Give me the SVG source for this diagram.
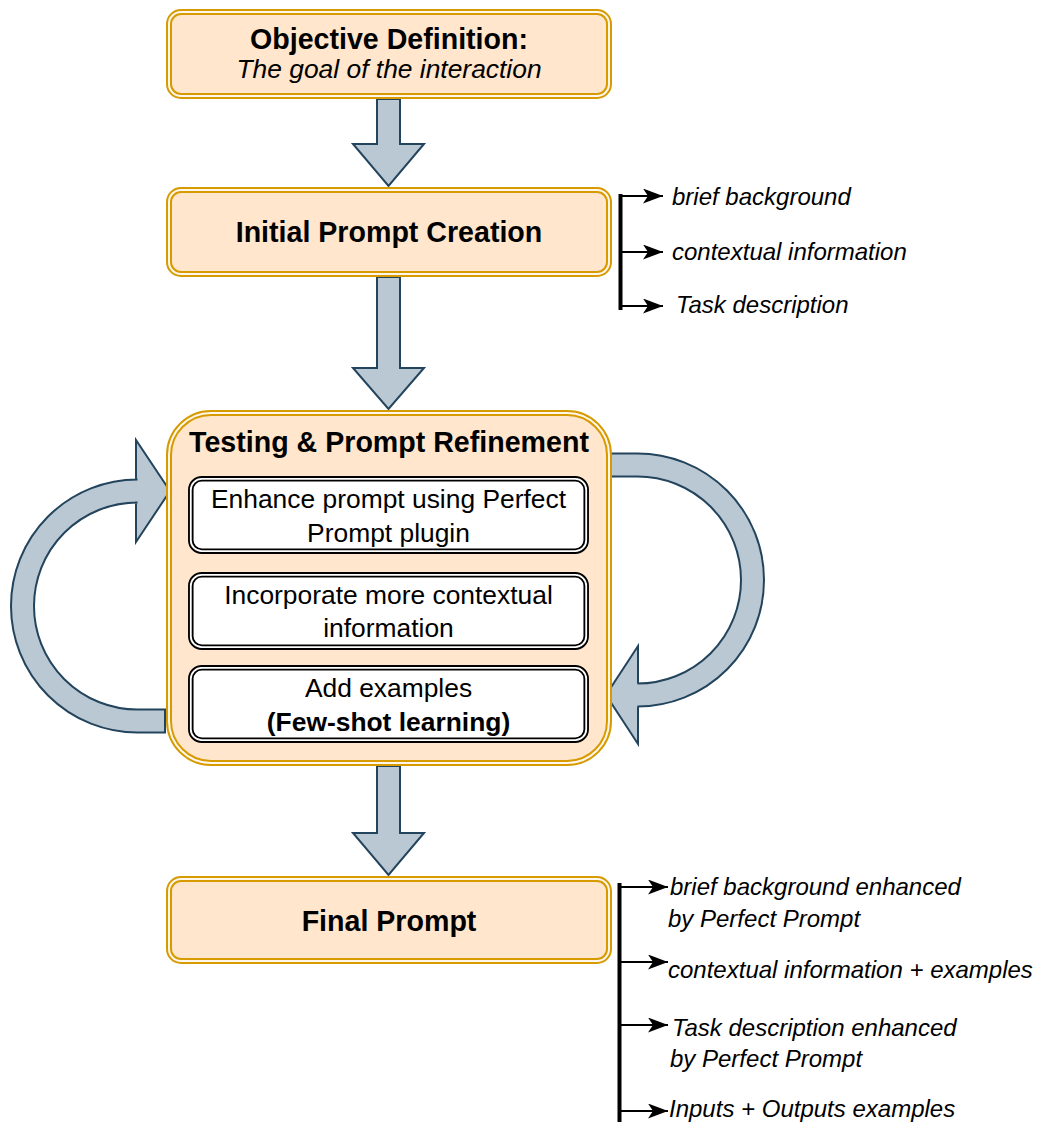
<svg xmlns="http://www.w3.org/2000/svg" width="1043" height="1122" viewBox="0 0 1043 1122">
<defs>
<style>
text{font-family:"Liberation Sans",Arial,sans-serif;fill:#000}
.b{font-weight:bold;font-size:28.6px}
.r{font-size:26.4px}
.i{font-style:italic;font-size:24px}
.ti{font-style:italic;font-size:26.4px}
.c{text-anchor:middle}
.ob{fill:#ffe6cc;stroke:#d79b00;stroke-width:6}
.oi{fill:none;stroke:#fff6ec;stroke-width:2}
.wb{fill:#fff;stroke:#000;stroke-width:5.5}
.wi{fill:none;stroke:#fff;stroke-width:1.8}
.fat{fill:#bac8d3;stroke:#23445d;stroke-width:2;stroke-linejoin:miter}
.br{stroke:#000;stroke-width:4;fill:none}
.ln{stroke:#000;stroke-width:2;fill:none;marker-end:url(#ah)}
</style>
<marker id="ah" viewBox="0 0 20 15" refX="20" refY="7.5" markerWidth="20" markerHeight="15" markerUnits="userSpaceOnUse" orient="auto">
<path d="M0,0 L20,7.5 L0,15 L5,7.5 Z" fill="#000"/>
</marker>
</defs>

<g id="connectors">
<path class="fat" d="M377,99 L400,99 L400,144 L424,144 L388.5,186 L353,144 L377,144 Z"/>
<path class="fat" d="M377,277 L400,277 L400,368 L424,368 L388.5,409 L353,368 L377,368 Z"/>
<path class="fat" d="M377,766 L400,766 L400,833 L424,833 L388.5,875 L353,833 L377,833 Z"/>
<path class="fat" d="M165,732.5 L137.5,732.5 A126.5,126.5 0 0 1 11,606 A126.5,126.5 0 0 1 137.5,479.5 L136,479.5 L136,440 L170,491 L136,542 L136,502.5 L137.5,502.5 A103.5,103.5 0 0 0 34,606 A103.5,103.5 0 0 0 137.5,709.5 L165,709.5 Z"/>
<path class="fat" d="M610,453.5 L637.5,453.5 A126.5,126.5 0 0 1 764,580 A126.5,126.5 0 0 1 637.5,706.5 L638,706.5 L638,744 L606,695 L638,646 L638,683.5 L637.5,683.5 A103.5,103.5 0 0 0 741,580 A103.5,103.5 0 0 0 637.5,476.5 L610,476.5 Z"/>
<line class="br" x1="620.5" y1="194" x2="620.5" y2="310"/>
<line class="ln" x1="620" y1="196" x2="663" y2="196"/>
<line class="ln" x1="620" y1="252" x2="663" y2="252"/>
<line class="ln" x1="620" y1="306" x2="663" y2="306"/>
<line class="br" x1="619.5" y1="883" x2="619.5" y2="1122"/>
<line class="ln" x1="619" y1="887" x2="668" y2="887"/>
<line class="ln" x1="619" y1="962" x2="668" y2="962"/>
<line class="ln" x1="619" y1="1025" x2="668" y2="1025"/>
<line class="ln" x1="619" y1="1111" x2="668" y2="1111"/>
</g>

<g id="objective">
<rect class="ob" x="169" y="12" width="440" height="84" rx="12"/>
<rect class="oi" x="169" y="12" width="440" height="84" rx="12"/>
<text class="b c" x="389" y="49">Objective Definition:</text>
<text class="ti c" x="389" y="78">The goal of the interaction</text>
</g>

<g id="initial">
<rect class="ob" x="169" y="190" width="440" height="84" rx="12"/>
<rect class="oi" x="169" y="190" width="440" height="84" rx="12"/>
<text class="b c" x="389" y="242">Initial Prompt Creation</text>
</g>

<g id="initial-notes">
<text class="i" x="672" y="205">brief background</text>
<text class="i" x="672" y="260">contextual information</text>
<text class="i" x="676" y="313">Task description</text>
</g>

<g id="testing">
<rect class="ob" x="169" y="413" width="440" height="350" rx="42"/>
<rect class="oi" x="169" y="413" width="440" height="350" rx="42"/>
<text class="b c" x="389" y="452">Testing &amp; Prompt Refinement</text>
</g>

<g id="enhance">
<rect class="wb" x="190.8" y="478.8" width="395.4" height="72.4" rx="11"/>
<rect class="wi" x="190.8" y="478.8" width="395.4" height="72.4" rx="11"/>
<text class="r c" x="388.5" y="508">Enhance prompt using Perfect</text>
<text class="r c" x="388.5" y="542">Prompt plugin</text>
</g>

<g id="incorporate">
<rect class="wb" x="190.8" y="574.8" width="395.4" height="72.4" rx="11"/>
<rect class="wi" x="190.8" y="574.8" width="395.4" height="72.4" rx="11"/>
<text class="r c" x="388.5" y="604">Incorporate more contextual</text>
<text class="r c" x="388.5" y="637">information</text>
</g>

<g id="examples">
<rect class="wb" x="190.8" y="667.8" width="395.4" height="72.4" rx="11"/>
<rect class="wi" x="190.8" y="667.8" width="395.4" height="72.4" rx="11"/>
<text class="r c" x="388.5" y="697">Add examples</text>
<text class="c" x="388.5" y="731" style="font-weight:bold;font-size:26.4px">(Few-shot learning)</text>
</g>

<g id="final">
<rect class="ob" x="169" y="879" width="440" height="82" rx="12"/>
<rect class="oi" x="169" y="879" width="440" height="82" rx="12"/>
<text class="b c" x="389" y="931">Final Prompt</text>
</g>

<g id="final-notes">
<text class="i" x="670" y="895">brief background enhanced</text>
<text class="i" x="668" y="927">by Perfect Prompt</text>
<text class="i" x="668" y="978">contextual information + examples</text>
<text class="i" x="672" y="1036">Task description enhanced</text>
<text class="i" x="670" y="1067">by Perfect Prompt</text>
<text class="i" x="669" y="1117">Inputs + Outputs examples</text>
</g>
</svg>
